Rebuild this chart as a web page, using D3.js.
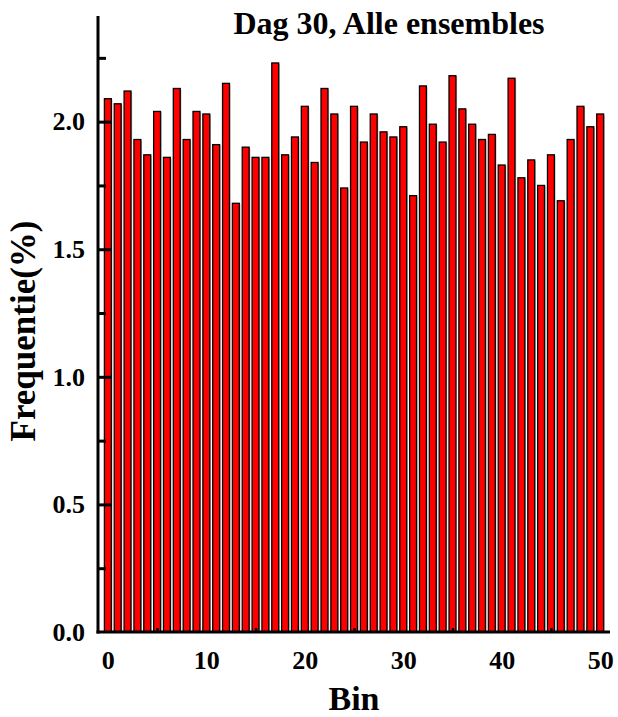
<!DOCTYPE html>
<html>
<head>
<meta charset="utf-8">
<script src="https://cdn.jsdelivr.net/npm/d3@7"></script>
<style>
  body { margin: 0; background: #fff; }
  text { font-family: "Liberation Serif", "Times New Roman", serif; font-weight: bold; }
</style>
</head>
<body>
<div id="chart"></div>
<script>
// bins 0..50 and their frequency (%)
const bins = d3.range(0, 51);
const freq = [2.09, 2.07, 2.12, 1.93, 1.87, 2.04, 1.86, 2.13, 1.93, 2.04,
              2.03, 1.91, 2.15, 1.68, 1.90, 1.86, 1.86, 2.23, 1.87, 1.94,
              2.06, 1.84, 2.13, 2.03, 1.74, 2.06, 1.92, 2.03, 1.96, 1.94,
              1.98, 1.71, 2.14, 1.99, 1.92, 2.18, 2.05, 1.99, 1.93, 1.95,
              1.83, 2.17, 1.78, 1.85, 1.75, 1.87, 1.69, 1.93, 2.06, 1.98,
              2.03];
const xTicks = [0, 10, 20, 30, 40, 50];
const xMinor = [5, 15, 25, 35, 45];
const yTicks = [0, 0.5, 1.0, 1.5, 2.0];
const yMinor = [0.25, 0.75, 1.25, 1.75, 2.25];

const data = bins.map((b, i) => ({bin: b, value: freq[i]}));

const width = 618, height = 717;
const plotLeft = 98, plotRight = 610, plotTop = 16, plotBottom = 632;

const svg = d3.select("#chart").append("svg")
  .attr("width", width)
  .attr("height", height);

const xScale = d3.scaleLinear()
  .domain([-1, 51])
  .range([plotLeft, plotRight]);

const yScale = d3.scaleLinear()
  .domain([0, 2.414])
  .range([plotBottom, plotTop]);

const bw = (xScale(1) - xScale(0)) * 0.7;

// grey shadow behind each bar
svg.selectAll(".shadow")
  .data(data)
  .enter().append("rect")
  .attr("class", "shadow")
  .attr("x", d => xScale(d.bin) - bw / 2 + 1.2)
  .attr("y", d => yScale(d.value) + 1)
  .attr("width", bw)
  .attr("height", d => plotBottom - yScale(d.value))
  .style("fill", "#bcbcbc");

svg.selectAll(".bar")
  .data(data)
  .enter().append("rect")
  .attr("class", "bar")
  .attr("x", d => xScale(d.bin) - bw / 2)
  .attr("y", d => yScale(d.value))
  .attr("width", bw)
  .attr("height", d => plotBottom - yScale(d.value))
  .style("fill", "#ff0000")
  .style("stroke", "#000")
  .style("stroke-width", 1.3);

// x axis
const xAxis = svg.append("g")
  .attr("transform", `translate(0, ${plotBottom})`)
  .call(d3.axisBottom(xScale).tickValues(xTicks).tickSize(0).tickSizeOuter(0).tickPadding(19));

const xMinorAxis = svg.append("g")
  .attr("transform", `translate(0, ${plotBottom})`)
  .call(d3.axisBottom(xScale).tickValues(xMinor).tickSize(-4).tickSizeOuter(0).tickFormat(""));
xMinorAxis.select(".domain").remove();
xMinorAxis.selectAll("line").style("stroke", "#000").style("stroke-width", 2.5);

// y axis
const yAxis = svg.append("g")
  .attr("transform", `translate(${plotLeft}, 0)`)
  .call(d3.axisLeft(yScale).tickValues(yTicks).tickSize(-13).tickSizeOuter(0)
    .tickPadding(13).tickFormat(d3.format(".1f")));

const yMinorAxis = svg.append("g")
  .attr("transform", `translate(${plotLeft}, 0)`)
  .call(d3.axisLeft(yScale).tickValues(yMinor).tickSize(-8).tickSizeOuter(0).tickFormat(""));
yMinorAxis.select(".domain").remove();

[xAxis, yAxis, yMinorAxis].forEach(g => {
  g.select(".domain").style("stroke", "#000").style("stroke-width", 3);
  g.selectAll("line").style("stroke", "#000").style("stroke-width", 3);
  g.selectAll("text").style("font-size", "26px").style("fill", "#000");
});
xAxis.select(".domain").attr("d", `M${plotLeft - 1.5},0H${plotRight}`);
yAxis.select(".domain").attr("d", `M0,${plotTop}V${plotBottom + 1.5}`);
yAxis.selectAll(".tick").filter(d => d === 0).select("line").remove();

// titles
svg.append("text")
  .attr("x", 389)
  .attr("y", 34)
  .style("text-anchor", "middle")
  .style("font-size", "32px")
  .text("Dag 30, Alle ensembles");

svg.append("text")
  .attr("x", (plotLeft + plotRight) / 2)
  .attr("y", 710)
  .style("text-anchor", "middle")
  .style("font-size", "34px")
  .text("Bin");

svg.append("text")
  .attr("transform", "rotate(-90)")
  .attr("x", -331)
  .attr("y", 35)
  .style("text-anchor", "middle")
  .style("font-size", "35px")
  .text("Frequentie(%)");
</script>
</body>
</html>
